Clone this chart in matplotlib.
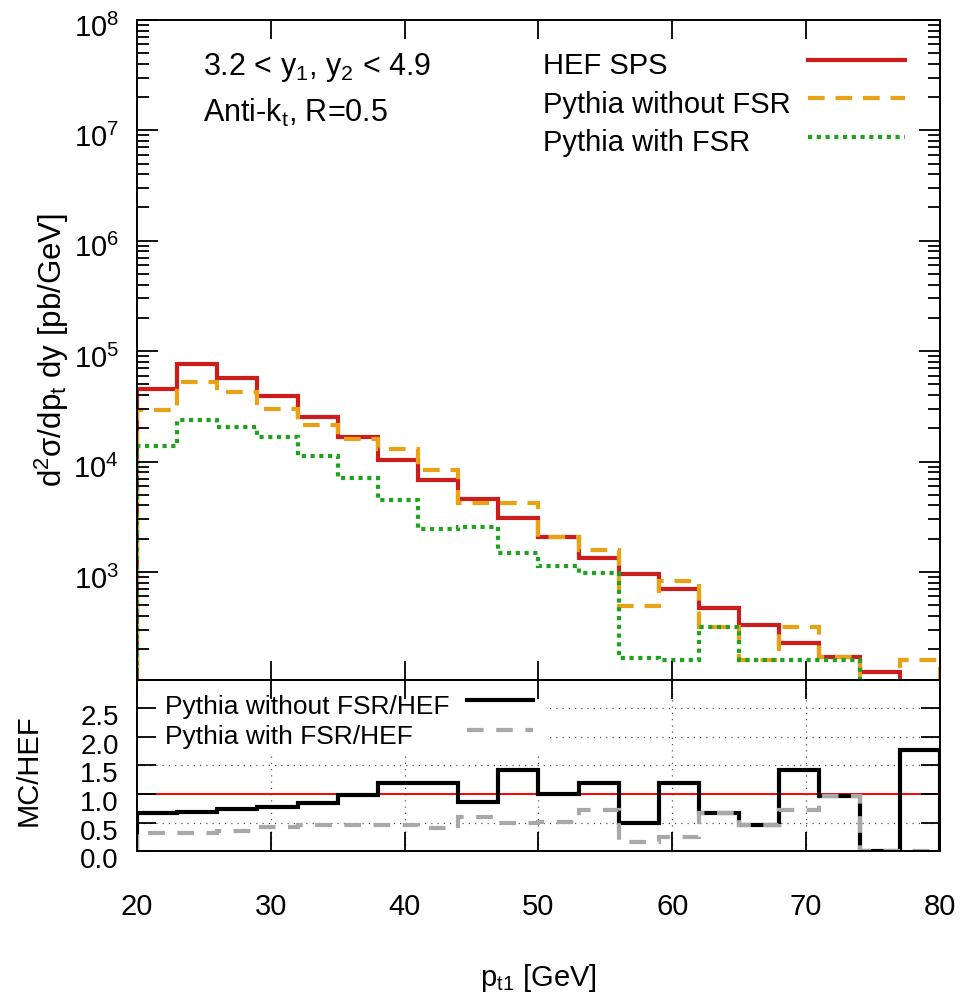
import numpy as np
import matplotlib
matplotlib.use('Agg')
import matplotlib.pyplot as plt
from matplotlib import transforms
from matplotlib.patches import Rectangle
from matplotlib.ticker import LogLocator, NullFormatter, FixedLocator, FormatStrFormatter

plt.rcParams['font.family'] = ['Liberation Sans', 'DejaVu Sans']
plt.rcParams['mathtext.default'] = 'regular'

# bin edges in p_t1 [GeV], 3 GeV bins
edges = np.arange(20, 81, 3)

# d2sigma/dpt dy [pb/GeV] (0 = empty bin)
hef_sps = [45000, 75700, 57400, 39600, 25400, 16700, 10400, 6870, 4590, 3090,
           2070, 1350, 959, 697, 469, 331, 226, 171, 125, 89]
pythia_nofsr = [29200, 52900, 42800, 30200, 21600, 16100, 13000, 8460, 4220, 4220,
                2070, 1580, 492, 828, 319, 160, 319, 170, 0, 160]
pythia_fsr = [13800, 23700, 20600, 16700, 11300, 7110, 4460, 2440, 2570, 1480,
              1140, 973, 165, 160, 319, 160, 160, 160, 0, 0]

# MC / HEF ratios
ratio_nofsr = [0.66, 0.69, 0.73, 0.78, 0.85, 0.98, 1.2, 1.2, 0.86, 1.42,
               1.0, 1.19, 0.49, 1.19, 0.67, 0.46, 1.42, 0.96, 0.0, 1.78]
ratio_fsr = [0.31, 0.32, 0.35, 0.42, 0.45, 0.45, 0.45, 0.41, 0.6, 0.49,
             0.51, 0.72, 0.16, 0.25, 0.67, 0.46, 0.72, 0.96, 0.0, 0.0]

red = '#cc1d1d'
orange = '#e9a116'
green = '#22a022'
gray = '#a8a8a8'

fig = plt.figure(figsize=(9.72, 9.97), dpi=100)
ax = fig.add_axes([0.1409, 0.318, 0.8261, 0.662])
rx = fig.add_axes([0.1409, 0.1464, 0.8261, 0.1716])

# ---- top panel
ax.set_yscale('log', nonpositive='clip')
ax.stairs(hef_sps, edges, baseline=0, color=red, lw=3)
ax.stairs(pythia_nofsr, edges, baseline=0, color=orange, lw=3, linestyle=(0, (4, 2.6)))
ax.stairs(pythia_fsr, edges, baseline=0, color=green, lw=3, linestyle=(0, (1, 1.1)))
ax.set_xlim(20, 80)
ax.set_ylim(105, 1e8)
ax.set_xticks(np.arange(20, 81, 10))
ax.yaxis.set_major_locator(LogLocator(base=10, numticks=20))
ax.yaxis.set_minor_locator(LogLocator(base=10, subs=np.arange(2, 10), numticks=20))
ax.yaxis.set_minor_formatter(NullFormatter())
ax.tick_params(which='both', direction='in', top=True, right=True, labelbottom=False,
               labelsize=21, width=1.3)
ax.tick_params(axis='y', which='major', length=15, pad=13)
ax.tick_params(axis='y', which='minor', length=8.5)
ax.tick_params(axis='x', which='major', length=14)
for s in ax.spines.values():
    s.set_linewidth(1.4)
down = transforms.ScaledTranslation(0, -0.05, fig.dpi_scale_trans)
for lab in ax.get_yticklabels():
    lab.set_transform(lab.get_transform() + down)
ax.set_ylabel(r'd$^2$σ/dp$_t$ dy [pb/GeV]', fontsize=22.5)
ax.yaxis.set_label_coords(-0.082, 0.5)

ax.text(0.082, 0.917, r'3.2 < y$_1$, y$_2$ < 4.9', transform=ax.transAxes,
        fontsize=22, va='baseline')
ax.text(0.082, 0.845, r'Anti-k$_t$, R=0.5', transform=ax.transAxes,
        fontsize=22, va='baseline')

# legend, gnuplot style: labels left, samples right
labels = ['HEF SPS', 'Pythia without FSR', 'Pythia with FSR']
styles = [dict(color=red, lw=3),
          dict(color=orange, lw=3, linestyle=(0, (4, 2.6))),
          dict(color=green, lw=3, linestyle=(0, (1, 1.1)))]
for i, (lab, st) in enumerate(zip(labels, styles)):
    yt = 0.930 - i * 0.0585
    ax.text(0.506, yt, lab, transform=ax.transAxes, fontsize=21, va='center')
    ax.plot([0.836, 0.956], [yt + 0.010, yt + 0.010], transform=ax.transAxes, **st)

# ---- ratio panel
for t in [30, 40, 50, 60, 70]:
    rx.axvline(t, color='#555555', lw=0.9, linestyle=(0, (1, 4)), zorder=0.5)
for t in [0.5, 1.5, 2.0, 2.5]:
    rx.axhline(t, color='#555555', lw=0.9, linestyle=(0, (1, 4)), zorder=0.5)
rx.add_patch(Rectangle((0, 0.58), 0.513, 0.42, transform=rx.transAxes,
                       facecolor='white', edgecolor='none', zorder=1))
rx.axhline(1.0, color='#ff0000', lw=1.4, zorder=1.5)
rx.stairs(ratio_nofsr, edges, baseline=0, color='black', lw=3, zorder=2)
rx.stairs(ratio_fsr, edges, baseline=0, color=gray, lw=3, linestyle=(0, (4, 3)), zorder=2.1)
rx.set_xlim(20, 80)
rx.set_ylim(0, 3)
rx.set_xticks(np.arange(20, 81, 10))
rx.yaxis.set_major_locator(FixedLocator([0.0, 0.5, 1.0, 1.5, 2.0, 2.5]))
rx.yaxis.set_major_formatter(FormatStrFormatter('%.1f'))
rx.tick_params(which='both', direction='in', top=True, right=True, labelsize=21,
               width=1.3, length=14)
rx.tick_params(axis='y', pad=13, labelsize=20)
rx.tick_params(axis='x', pad=30)
for s in rx.spines.values():
    s.set_linewidth(1.4)
shift = transforms.ScaledTranslation(0, -0.07, fig.dpi_scale_trans)
for lab in rx.get_yticklabels():
    lab.set_transform(lab.get_transform() + shift)
rx.set_ylabel('MC/HEF', fontsize=21)
rx.yaxis.set_label_coords(-0.117, 0.474)
rx.set_xlabel(r'p$_{t1}$ [GeV]', fontsize=21, labelpad=30)

rlabels = ['Pythia without FSR/HEF', 'Pythia with FSR/HEF']
rstyles = [dict(color='black', lw=3), dict(color=gray, lw=3, linestyle=(0, (4, 3)))]
for i, (lab, st) in enumerate(zip(rlabels, rstyles)):
    yt = 0.842 - i * 0.175
    rx.text(0.035, yt, lab, transform=rx.transAxes, fontsize=19, va='center', zorder=3)
    rx.plot([0.411, 0.493], [yt + 0.041, yt + 0.041], transform=rx.transAxes,
            zorder=3, **st)

fig.savefig('out.png', dpi=100)
